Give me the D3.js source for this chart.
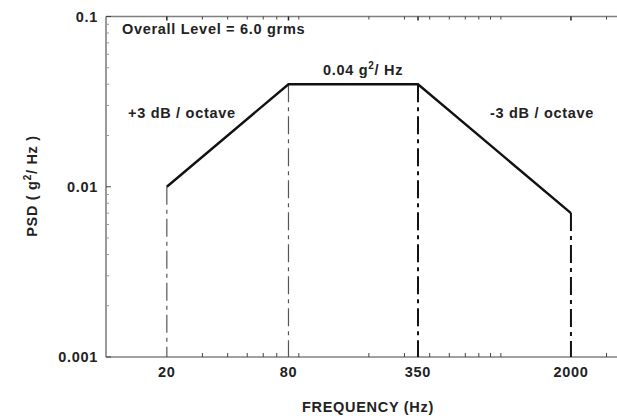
<!DOCTYPE html>
<html><head><meta charset="utf-8">
<script src="https://cdn.jsdelivr.net/npm/d3@7"></script>
<style>
html,body{margin:0;padding:0;background:#fff;}
svg text{font-family:"Liberation Sans",Arial,sans-serif;font-weight:bold;fill:#222;}
</style></head>
<body><svg id="c" width="617" height="416"></svg>
<script>
// data
const freq = [20, 80, 350, 2000];
const psd = [0.01, 0.04, 0.04, 0.007];
const xTickLabels = ["20", "80", "350", "2000"];
const yTickValues = [0.001, 0.01, 0.1];
const yTickLabels = ["0.001", "0.01", "0.1"];
const xMinorTicks = [30, 40, 50, 60, 70, 90, 200, 300, 400, 500, 600, 700, 800, 900, 3000];
const yMinorTicks = [0.002,0.003,0.004,0.005,0.006,0.007,0.008,0.009,0.02,0.03,0.04,0.05,0.06,0.07,0.08,0.09];
const annotations = ["Overall Level = 6.0 grms", "+3 dB / octave", "-3 dB / octave"];

const svg = d3.select("#c");
const L = 106, R = 617, T = 16.5, B = 357;
const x = d3.scaleLog().domain([10, 3380]).range([L, R]);
const y = d3.scaleLog().domain([0.001, 0.1]).range([B, T]);
const FS = 14.5, LS = "0.7px";

// axes frame
const axisColor = "#808080";
svg.append("line").attr("x1", L).attr("x2", R).attr("y1", B).attr("y2", B).attr("stroke", axisColor).attr("stroke-width", 1.6);
svg.append("line").attr("x1", L).attr("x2", R).attr("y1", T).attr("y2", T).attr("stroke", axisColor).attr("stroke-width", 1.6);
svg.append("line").attr("x1", L).attr("x2", L).attr("y1", T).attr("y2", B).attr("stroke", axisColor).attr("stroke-width", 1.6);

// minor ticks
const tickColor = "#444";
xMinorTicks.forEach(v => {
  svg.append("line").attr("x1", x(v)).attr("x2", x(v)).attr("y1", B).attr("y2", B - 4).attr("stroke", tickColor).attr("stroke-width", 1);
  svg.append("line").attr("x1", x(v)).attr("x2", x(v)).attr("y1", T).attr("y2", T + 3).attr("stroke", tickColor).attr("stroke-width", 1);
});
freq.forEach(v => {
  svg.append("line").attr("x1", x(v)).attr("x2", x(v)).attr("y1", T).attr("y2", T + 4).attr("stroke", "#222").attr("stroke-width", 1.5);
});
yMinorTicks.forEach(v => {
  svg.append("line").attr("x1", L).attr("x2", L + 3).attr("y1", y(v)).attr("y2", y(v)).attr("stroke", "#999").attr("stroke-width", 1);
});
yTickValues.forEach(v => {
  svg.append("line").attr("x1", L).attr("x2", L + 5).attr("y1", y(v)).attr("y2", y(v)).attr("stroke", tickColor).attr("stroke-width", 1);
});

// tick labels
yTickValues.forEach((v, i) => {
  svg.append("text").attr("x", 98).attr("y", y(v)).attr("dy", "0.35em").attr("text-anchor", "end")
    .attr("font-size", FS).attr("letter-spacing", LS).text(yTickLabels[i]);
});
freq.forEach((v, i) => {
  svg.append("text").attr("x", x(v)).attr("y", 372).attr("dy", "0.35em").attr("text-anchor", "middle")
    .attr("font-size", FS).attr("letter-spacing", LS).text(xTickLabels[i]);
});

// vertical dash-dot lines
freq.forEach((v, i) => {
  svg.append("line").attr("x1", x(v)).attr("x2", x(v)).attr("y1", y(psd[i])).attr("y2", B)
    .attr("stroke", i < 2 ? "#555" : "#111").attr("stroke-width", i < 2 ? 1.2 : 2)
    .attr("stroke-dasharray", "18,5,4,5");
});

// profile
const line = d3.line().x(d => x(d[0])).y(d => y(d[1]));
svg.append("path").datum(freq.map((f, i) => [f, psd[i]])).attr("d", line)
  .attr("fill", "none").attr("stroke", "#111").attr("stroke-width", 2.4).attr("stroke-linejoin", "miter");

// annotations
svg.append("text").attr("x", 122).attr("y", 34).attr("font-size", FS).attr("letter-spacing", LS).text(annotations[0]);
svg.append("text").attr("x", 128).attr("y", 118).attr("font-size", FS).attr("letter-spacing", LS).text(annotations[1]);
svg.append("text").attr("x", 490).attr("y", 118).attr("font-size", FS).attr("letter-spacing", LS).text(annotations[2]);
const t = svg.append("text").attr("x", 323).attr("y", 75).attr("font-size", FS).attr("letter-spacing", LS);
t.append("tspan").text("0.04 g");
t.append("tspan").attr("font-size", 10).attr("dy", -6).text("2");
t.append("tspan").attr("dy", 6).text("/ Hz");

// axis titles
svg.append("text").attr("x", 368).attr("y", 412).attr("text-anchor", "middle").attr("font-size", FS).attr("letter-spacing", LS).text("FREQUENCY (Hz)");
const yt = svg.append("text").attr("transform", "translate(37,186) rotate(-90)").attr("text-anchor", "middle").attr("font-size", FS).attr("letter-spacing", LS);
yt.append("tspan").text("PSD ( g");
yt.append("tspan").attr("font-size", 10).attr("dy", -6).text("2");
yt.append("tspan").attr("dy", 6).text("/ Hz )");
</script></body></html>
